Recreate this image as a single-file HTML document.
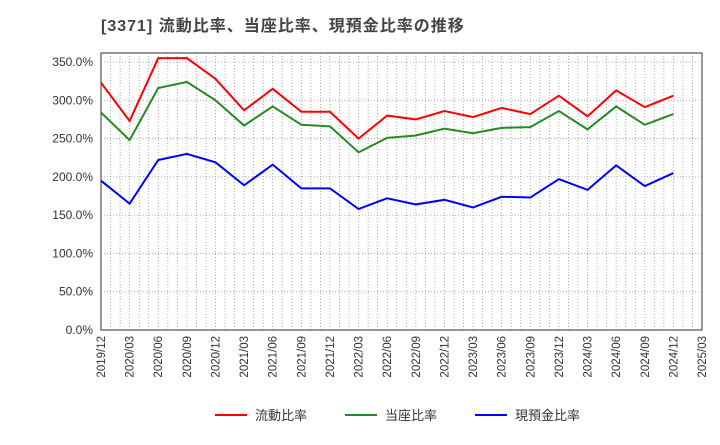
<!DOCTYPE html>
<html><head><meta charset="utf-8"><style>
body{margin:0;background:#fff;font-family:"Liberation Sans","Noto Sans CJK JP",sans-serif;}
</style></head><body>
<svg id="chart" width="720" height="440" xmlns="http://www.w3.org/2000/svg" font-family="Liberation Sans, Noto Sans CJK JP, sans-serif">
<text x="101" y="31" font-size="16" letter-spacing="1" font-weight="bold" fill="#444">[3371]  流動比率、当座比率、現預金比率の推移</text>
<g id="grid"></g><g id="axes"></g><g id="series"></g>
<g font-size="13" fill="#333">
<line x1="215" y1="415" x2="247" y2="415" stroke="#f00" stroke-width="2"/><text x="255" y="420">流動比率</text>
<line x1="345" y1="415" x2="377" y2="415" stroke="#228b22" stroke-width="2"/><text x="385" y="420">当座比率</text>
<line x1="475" y1="415" x2="507" y2="415" stroke="#00f" stroke-width="2"/><text x="515" y="420">現預金比率</text>
</g>
</svg>
<script>
const xLabels=["2019/12","2020/03","2020/06","2020/09","2020/12","2021/03","2021/06","2021/09","2021/12","2022/03","2022/06","2022/09","2022/12","2023/03","2023/06","2023/09","2023/12","2024/03","2024/06","2024/09","2024/12","2025/03"];
const yTicks=[0,50,100,150,200,250,300,350];
const currentRatio=[323,273,355,355,328,287,315,285,285,250,280,275,286,278,290,282,306,279,313,291,306];
const quickRatio=[284,248,316,324,300,267,292,268,266,232,251,254,263,257,264,265,286,262,292,268,282];
const cashRatio=[195,165,222,230,219,189,216,185,185,158,172,164,170,160,174,173,197,183,215,188,205];
const NS="http://www.w3.org/2000/svg";
const L=101,R=702,T=53,B=330;
const x=i=>L+(R-L)*i/(xLabels.length-1);
const y=v=>B-(B-62)*v/350;
function mk(tag,attrs,parent){const e=document.createElementNS(NS,tag);for(const k in attrs)e.setAttribute(k,attrs[k]);parent.appendChild(e);return e;}
const grid=document.getElementById('grid'),axes=document.getElementById('axes'),series=document.getElementById('series');
const months=(xLabels.length-1)*3;
for(let m=1;m<months;m++){const xx=L+(R-L)*m/months;
const g=mk('line',{x1:xx,x2:xx,y1:T,y2:B,stroke:'#999','stroke-dasharray':'1,2','stroke-width':0.8},grid);
}
yTicks.forEach(v=>{const yy=y(v);
if(v>0){const g=mk('line',{x1:L,x2:R,y1:yy,y2:yy,stroke:'#999','stroke-dasharray':'1,2','stroke-width':0.8},grid);
}
const t=mk('text',{x:L-8,y:yy+4,'text-anchor':'end','font-size':12,fill:'#333'},axes);t.textContent=v.toFixed(1)+'%';
});
xLabels.forEach((s,i)=>{const xx=x(i);
const t=mk('text',{x:0,y:0,transform:`translate(${xx+4},${B+6}) rotate(-90)`,'text-anchor':'end','font-size':11.5,fill:'#333'},axes);t.textContent=s;
});
const fr=mk('rect',{x:L,y:T,width:R-L,height:B-T,fill:'none',stroke:'#333','stroke-width':1},axes);

[[currentRatio,'#f00','current-ratio-line'],[quickRatio,'#228b22','quick-ratio-line'],[cashRatio,'#00f','cash-ratio-line']].forEach(([d,c,n])=>{
const p=mk('polyline',{points:d.map((v,i)=>x(i)+','+y(v)).join(' '),fill:'none',stroke:c,'stroke-width':2},series);
});
</script>
</body></html>
